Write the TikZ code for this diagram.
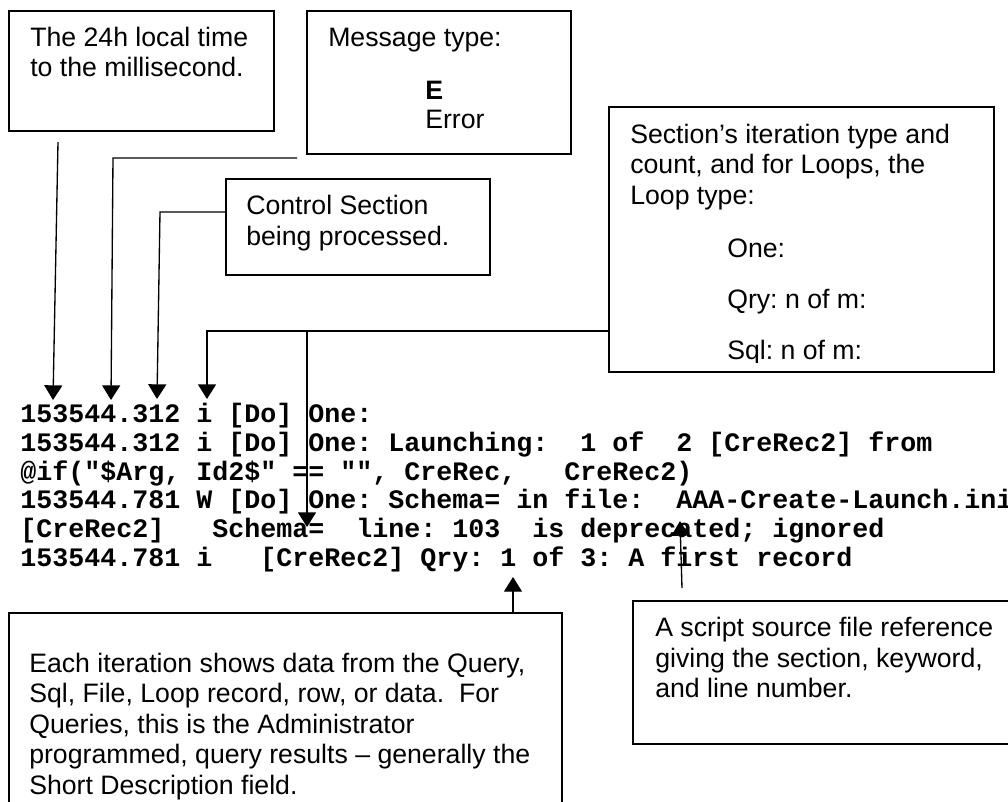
\documentclass[tikz,border=0pt]{standalone}
\usepackage{fontspec}
\setmainfont{Liberation Sans}
\newfontfamily\codefont{Liberation Mono}
\usetikzlibrary{arrows.meta,fit}
\frenchspacing
\tikzset{
  box/.style={draw, line width=1.5pt, inner sep=0pt},
  lbl/.style={anchor=base west, inner sep=0pt, font=\fontsize{20pt}{23pt}\selectfont},
  codeline/.style={anchor=base west, inner sep=0pt, font=\codefont\bfseries\fontsize{20pt}{22pt}\selectfont},
  arr/.style={line width=1pt, -{Triangle[length=11pt,width=13.5pt]}},
}
\begin{document}
\frenchspacing
\begin{tikzpicture}[x=0.75pt,y=-0.75pt]
\fill[white] (0,0) rectangle (1008,801);
\useasboundingbox (0,0) rectangle (1008,801);

% boxes
\node[box, fit={(9,11) (274,131)}] (timebox) {};
\node[box, fit={(307,11) (571,154)}] (msgbox) {};
\node[box, fit={(226,179) (490,275)}] (ctrlbox) {};
\node[box, fit={(609,107) (994,372)}] (iterbox) {};
\node[box, fit={(9,613) (562,830)}] (querybox) {};
\node[box, fit={(633,601) (1030,744)}] (srcbox) {};

% box texts
\node[lbl] (t1a) at (30,46) {The 24h local time};
\node[lbl] (t1b) at (30,76) {to the millisecond.};
\node[lbl] (t2a) at (328,46) {Message type:};
\node[lbl] (t2b) at (425,99) {\bfseries E};
\node[lbl] (t2c) at (425,128) {Error};
\node[lbl] (t3a) at (246,214) {Control Section};
\node[lbl] (t3b) at (246,245) {being processed.};
\node[lbl] (t4a) at (630,143) {Section’s iteration type and};
\node[lbl] (t4b) at (630,173) {count, and for Loops, the};
\node[lbl] (t4c) at (630,204) {Loop type:};
\node[lbl] (t4d) at (727,257) {One:};
\node[lbl] (t4e) at (727,308) {Qry: n of m:};
\begin{scope}
\clip (600,100) rectangle (1000,362);
\node[lbl] (t4f) at (727,359) {Sql: n of m:};
\end{scope}
\node[lbl] (t5a) at (655,636) {A script source file reference};
\node[lbl] (t5b) at (655,667) {giving the section, keyword,};
\node[lbl] (t5c) at (655,697) {and line number.};
\node[lbl] (t6a) at (29,672) {Each iteration shows data from the Query,};
\node[lbl] (t6b) at (29,702.5) {Sql, File, Loop record, row, or data.\ \ For};
\node[lbl] (t6c) at (29,733) {Queries, this is the Administrator};
\node[lbl] (t6d) at (29,763.5) {programmed, query results – generally the};
\node[lbl] (t6e) at (29,794) {Short Description field.};

% log lines
\node[codeline] (l1) at (20,422) {153544.312 i [Do] One:};
\node[codeline] (l2) at (20,451) {153544.312 i [Do] One: Launching:\ \ 1 of\ \ 2 [CreRec2] from};
\node[codeline] (l3) at (20,480) {@if("\$Arg, Id2\$" == "", CreRec,\ \ \ CreRec2)};
\node[codeline] (l4) at (20,508.5) {153544.781 W [Do] One: Schema= in file:\ \ AAA-Create-Launch.ini};
\node[codeline] (l5) at (20,537) {[CreRec2]\ \ \ Schema=\ \ line: 103\ \ is deprecated; ignored};
\node[codeline] (l6) at (20,566) {153544.781 i\ \ \ [CreRec2] Qry: 1 of 3: A first record};

% connector points
\coordinate (p1) at (58,142);
\coordinate (q1) at (53,400);
\coordinate (p2) at (297,158);
\coordinate (k2) at (113,158);
\coordinate (q2) at (111,400);
\coordinate (k3) at (160,212);
\coordinate (q3) at (157,399);
\coordinate (k4) at (207,331);
\coordinate (q4) at (207,399);
\coordinate (j5) at (307,331);
\coordinate (q5) at (307,527);
\coordinate (q6) at (513,577);
\coordinate (p7) at (682,588);
\coordinate (q7) at (680,521);

% connectors
\draw[arr] (p1) -- (q1);
\draw[arr] (p2) -- (k2) -- (q2);
\draw[arr] (ctrlbox.west |- k3) -- (k3) -- (q3);
\draw[arr] (iterbox.west |- k4) -- (k4) -- (q4);
\draw[arr] (j5) -- (q5);
\draw[arr] (querybox.north -| q6) -- (q6);
\draw[arr] (p7) -- (q7);
\end{tikzpicture}
\end{document}
